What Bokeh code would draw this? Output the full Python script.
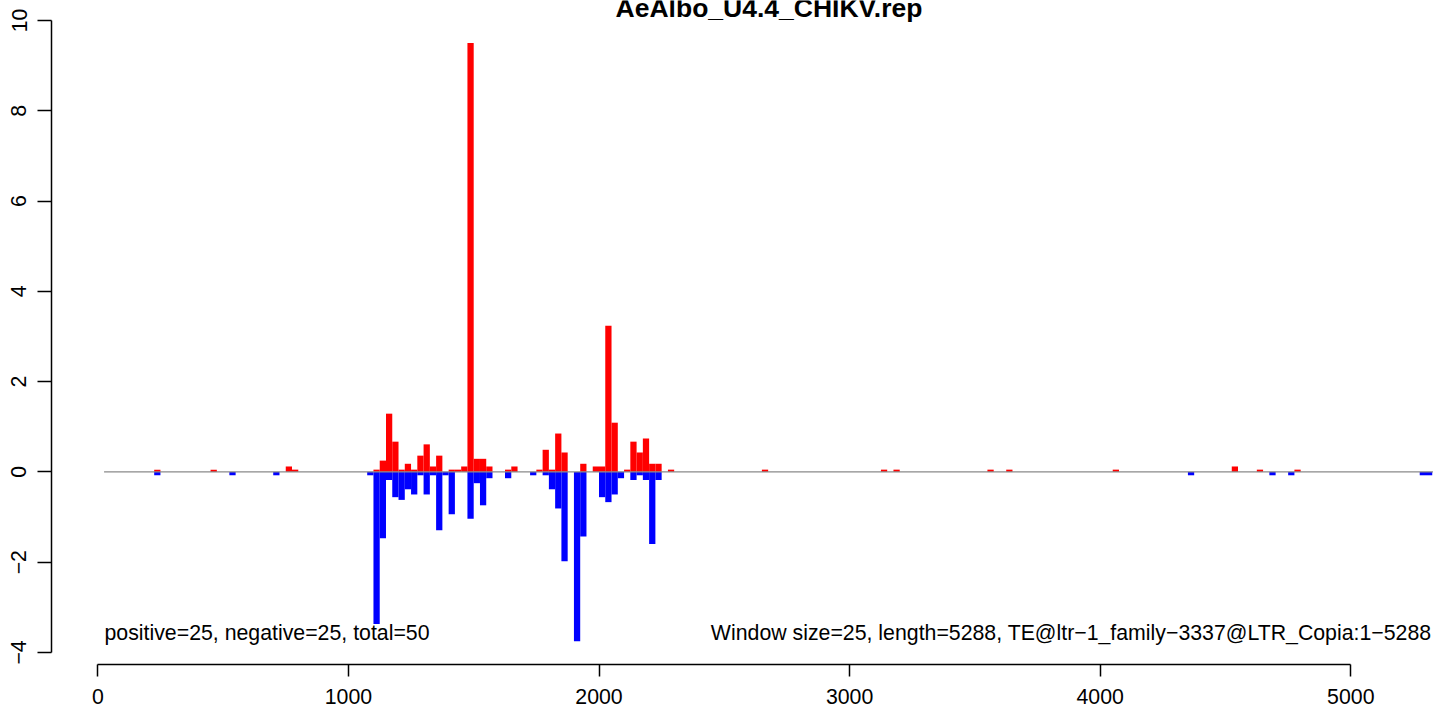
from bokeh.plotting import figure
from bokeh.models import Range1d, LinearAxis, FixedTicker, Label
from bokeh.embed import file_html
from bokeh.resources import INLINE

TITLE = "AeAlbo_U4.4_CHIKV.rep"
WINDOW = 25
LENGTH = 5288

pos_start = [225, 450, 750, 775, 1100, 1125, 1150, 1175, 1200, 1225, 1250, 1275, 1300,
             1325, 1350, 1400, 1425, 1450, 1475, 1500, 1525, 1550, 1625, 1650, 1750,
             1775, 1800, 1825, 1850, 1925, 1975, 2000, 2025, 2050, 2100, 2125, 2150,
             2175, 2200, 2225, 2275, 2650, 3125, 3175, 3550, 3625, 4050, 4525, 4625, 4775]
pos_value = [0.05, 0.05, 0.12, 0.05, 0.05, 0.25, 1.29, 0.67, 0.05, 0.18, 0.05, 0.36, 0.61,
             0.12, 0.36, 0.05, 0.05, 0.12, 9.50, 0.29, 0.29, 0.12, 0.05, 0.12, 0.05,
             0.49, 0.05, 0.85, 0.43, 0.18, 0.12, 0.12, 3.24, 1.09, 0.05, 0.67, 0.43,
             0.74, 0.18, 0.18, 0.05, 0.05, 0.05, 0.05, 0.05, 0.05, 0.05, 0.12, 0.05, 0.05]

neg_start = [225, 525, 700, 1075, 1100, 1125, 1150, 1175, 1200, 1225, 1250, 1275, 1300,
             1325, 1350, 1375, 1400, 1475, 1500, 1525, 1550, 1625, 1725, 1775, 1800,
             1825, 1850, 1900, 1925, 2000, 2025, 2050, 2075, 2125, 2150, 2175, 2200,
             2225, 4350, 4675, 4750, 5275, 5300]
neg_value = [-0.075, -0.075, -0.075, -0.075, -3.37, -1.47, -0.18, -0.56, -0.62, -0.385, -0.50,
             -0.075, -0.50, -0.075, -1.29, -0.075, -0.94, -1.04, -0.25, -0.74, -0.14, -0.14,
             -0.075, -0.075, -0.385, -0.81, -1.98, -3.75, -1.43, -0.56, -0.67, -0.50, -0.14,
             -0.18, -0.075, -0.18, -1.60, -0.18, -0.075, -0.075, -0.075, -0.075, -0.075]

x_ticks = [0, 1000, 2000, 3000, 4000, 5000]
y_ticks = [-4, -2, 0, 2, 4, 6, 8, 10]
y_tick_text = {-4: "\u22124", -2: "\u22122"}
left_note = "positive=25, negative=25, total=50"
right_note = "Window size=25, length=5288, TE@ltr\u22121_family\u22123337@LTR_Copia:1\u22125288"

FONT = "Liberation Sans"
FS = "21.3px"
W, H = 1433, 712
F_LEFT, F_RIGHT, F_TOP, F_BOTTOM = 51, 1433, 0, 664
X0_PX, XS = 97.3, 0.2506       # canvas px of x=0, px per unit
Y0_PX, YS = 471.4, 45.14       # canvas px of y=0, px per unit


def px2x(px):
    return (px - X0_PX) / XS


def px2y(py):
    return (Y0_PX - py) / YS


p = figure(width=W, height=H, output_backend="svg", toolbar_location=None,
           x_range=Range1d(px2x(F_LEFT), px2x(F_RIGHT)),
           y_range=Range1d(px2y(F_BOTTOM), px2y(F_TOP)),
           x_axis_location=None, y_axis_location=None,
           min_border_left=F_LEFT, min_border_right=W - F_RIGHT,
           min_border_top=F_TOP, min_border_bottom=H - F_BOTTOM)
p.outline_line_color = None
p.background_fill_color = "white"
p.border_fill_color = "white"
p.xgrid.visible = False
p.ygrid.visible = False

# axes
yax = LinearAxis(ticker=FixedTicker(ticks=y_ticks), bounds=(y_ticks[0], y_ticks[-1]))
yax.major_label_overrides = y_tick_text
xax = LinearAxis(ticker=FixedTicker(ticks=x_ticks), bounds=(x_ticks[0], x_ticks[-1]))
for ax in (xax, yax):
    ax.axis_line_color = "black"
    ax.axis_line_width = 1.5
    ax.major_tick_line_color = "black"
    ax.major_tick_line_width = 1.5
    ax.major_tick_in = 0
    ax.minor_tick_line_color = None
    ax.major_label_text_font = FONT
    ax.major_label_text_font_size = FS
    ax.major_label_text_color = "black"
yax.major_tick_out = 14
yax.major_label_standoff = 11
yax.major_label_orientation = "vertical"
xax.major_tick_out = 12
xax.major_label_standoff = 12
p.add_layout(yax, "left")
p.add_layout(xax, "below")

# bars
p.vbar(x=[s + WINDOW / 2 for s in pos_start], width=WINDOW, top=pos_value, bottom=0,
       fill_color="#FF0000", line_color=None)
p.vbar(x=[s + WINDOW / 2 for s in neg_start], width=WINDOW, top=0, bottom=neg_value,
       fill_color="#0000FF", line_color=None)

# zero line
p.segment(x0=[WINDOW], y0=[0], x1=[px2x(F_RIGHT)], y1=[0], line_color="#8a8a8a", line_width=1.3)

# texts
p.add_layout(Label(x=px2x(768.5), y=px2y(7.5), text=TITLE, text_align="center",
                   text_baseline="middle", text_font=FONT, text_font_style="bold",
                   text_font_size="26.5px", text_color="black"))
p.add_layout(Label(x=px2x(104), y=px2y(632.5), text=left_note, text_align="left",
                   text_baseline="middle", text_font=FONT, text_font_size=FS,
                   text_color="black"))
p.add_layout(Label(x=px2x(1431), y=px2y(632.5), text=right_note, text_align="right",
                   text_baseline="middle", text_font=FONT, text_font_size=FS,
                   text_color="black"))

open("out.html", "w").write(file_html(p, INLINE))
